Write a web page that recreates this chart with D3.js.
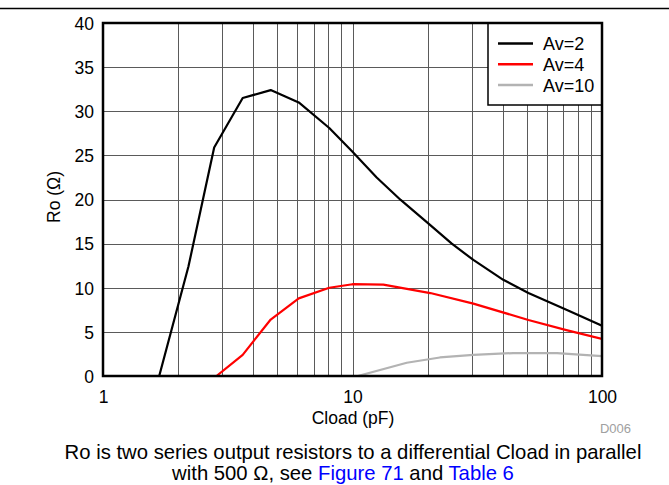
<!DOCTYPE html>
<html><head><meta charset="utf-8">
<script src="https://cdn.jsdelivr.net/npm/d3@7"></script>
<style>body{margin:0;background:#fff}svg{display:block;font-family:"Liberation Sans",Arial,sans-serif}</style>
</head><body><svg id="c" width="669" height="485"></svg>
<script>
const av2C = [1.68, 2.2, 2.79, 3.63, 4.7, 6.09, 8.07, 10, 12.5, 15.6, 20.5, 25, 30.5, 40.2, 50.7, 72, 100];
const av2R = [0, 12.4, 25.9, 31.5, 32.4, 31.0, 28.1, 25.4, 22.5, 19.95, 17.1, 15.0, 13.15, 10.9, 9.4, 7.5, 5.7];
const av4C = [2.85, 3.63, 4.7, 6.09, 8.07, 10, 13.3, 20.5, 30.5, 50.7, 72, 100];
const av4R = [0, 2.4, 6.4, 8.8, 10.0, 10.4, 10.35, 9.4, 8.2, 6.35, 5.2, 4.2];
const av10C = [10.5, 16.5, 22.4, 30.5, 44.1, 66, 100];
const av10R = [0, 1.5, 2.1, 2.4, 2.6, 2.6, 2.25];
const seriesNames = ["Av=2", "Av=4", "Av=10"];
const seriesColors = ["#000000", "#ff0000", "#b3b3b3"];
const xTicks = [1, 10, 100];
const yTicks = [0, 5, 10, 15, 20, 25, 30, 35, 40];

const svg = d3.select("#c");
const L = 103, R = 602, T = 23, B = 376;
const x = d3.scaleLog().domain([1, 100]).range([L, R]);
const y = d3.scaleLinear().domain([0, 40]).range([B, T]);
const FONT = "Liberation Sans, Arial, sans-serif";

// header rule
svg.append("line").attr("x1", 0).attr("x2", 669).attr("y1", 8.5).attr("y2", 8.5).attr("stroke", "#000").attr("stroke-width", 1.5);

// grid
const minor = [];
for (let d = 1; d < 100; d *= 10) for (let k = 2; k <= 9; k++) minor.push(d * k);
minor.push(10);
const g = svg.append("g").attr("stroke", "#5a5a5a").attr("stroke-width", 1).attr("shape-rendering", "crispEdges");
g.selectAll(".v").data(minor).join("line").attr("x1", d => Math.round(x(d)) + 0.5).attr("x2", d => Math.round(x(d)) + 0.5).attr("y1", T).attr("y2", B);
g.selectAll(".h").data(yTicks.slice(1, -1)).join("line").attr("x1", L).attr("x2", R).attr("y1", d => Math.round(y(d)) + 0.5).attr("y2", d => Math.round(y(d)) + 0.5);

// curves
const datasets = [[av2C, av2R], [av4C, av4R], [av10C, av10R]];
const line = d3.line().x(d => x(d[0])).y(d => y(d[1]));
svg.append("defs").append("clipPath").attr("id", "clip").append("rect").attr("x", L).attr("y", T).attr("width", R - L).attr("height", B - T);
datasets.forEach((ds, i) => {
  const pts = ds[0].map((c, j) => [c, ds[1][j]]);
  svg.append("path").attr("d", line(pts)).attr("fill", "none").attr("stroke", seriesColors[i]).attr("stroke-width", 2.2).attr("stroke-linejoin", "round").attr("clip-path", "url(#clip)");
});

// legend
const lg = svg.append("g");
lg.append("rect").attr("x", 488).attr("y", T).attr("width", R - 488).attr("height", 82).attr("fill", "#fff").attr("stroke", "#000").attr("stroke-width", 1.5);
seriesNames.forEach((n, i) => {
  const yy = 43.5 + i * 20.8;
  lg.append("line").attr("x1", 498).attr("x2", 533).attr("y1", yy).attr("y2", yy).attr("stroke", seriesColors[i]).attr("stroke-width", 2.5);
  lg.append("text").attr("x", 543).attr("y", yy + 6.5).attr("font-size", 18).text(n);
});

// frame
svg.append("rect").attr("x", L).attr("y", T).attr("width", R - L).attr("height", B - T).attr("fill", "none").attr("stroke", "#000").attr("stroke-width", 2.5);

// axes labels
const xAxis = d3.axisBottom(x).tickValues(xTicks).tickFormat(d3.format("d")).tickSize(0).tickPadding(0);
const xa = svg.append("g").attr("transform", `translate(0,${B})`).call(xAxis);
xa.select(".domain").remove();
xa.selectAll("text").attr("font-size", 17.5).attr("font-family", FONT).attr("fill", "#000").attr("dy", null).attr("y", 27);
const yAxis = d3.axisLeft(y).tickValues(yTicks).tickSize(0).tickPadding(0);
const ya = svg.append("g").attr("transform", `translate(94,0)`).call(yAxis);
ya.select(".domain").remove();
ya.selectAll("text").attr("font-size", 17.5).attr("font-family", FONT).attr("fill", "#000").attr("x", 0).attr("dy", "0.36em");

svg.append("text").attr("x", 353).attr("y", 424).attr("text-anchor", "middle").attr("font-size", 17.5).text("Cload (pF)");
svg.append("text").attr("transform", "translate(60,197) rotate(-90)").attr("text-anchor", "middle").attr("font-size", 17.5).text("Ro (Ω)");
svg.append("text").attr("x", 631).attr("y", 433).attr("text-anchor", "end").attr("font-size", 13).attr("fill", "#a0a0a0").text("D006");

svg.append("text").attr("x", 353).attr("y", 459).attr("text-anchor", "middle").attr("font-size", 20.3).text("Ro is two series output resistors to a differential Cload in parallel");
const t2 = svg.append("text").attr("x", 343).attr("y", 480).attr("text-anchor", "middle").attr("font-size", 20.3);
t2.append("tspan").text("with 500 Ω, see ");
t2.append("tspan").attr("fill", "#0000ff").text("Figure 71");
t2.append("tspan").text(" and ");
t2.append("tspan").attr("fill", "#0000ff").text("Table 6");
</script></body></html>
